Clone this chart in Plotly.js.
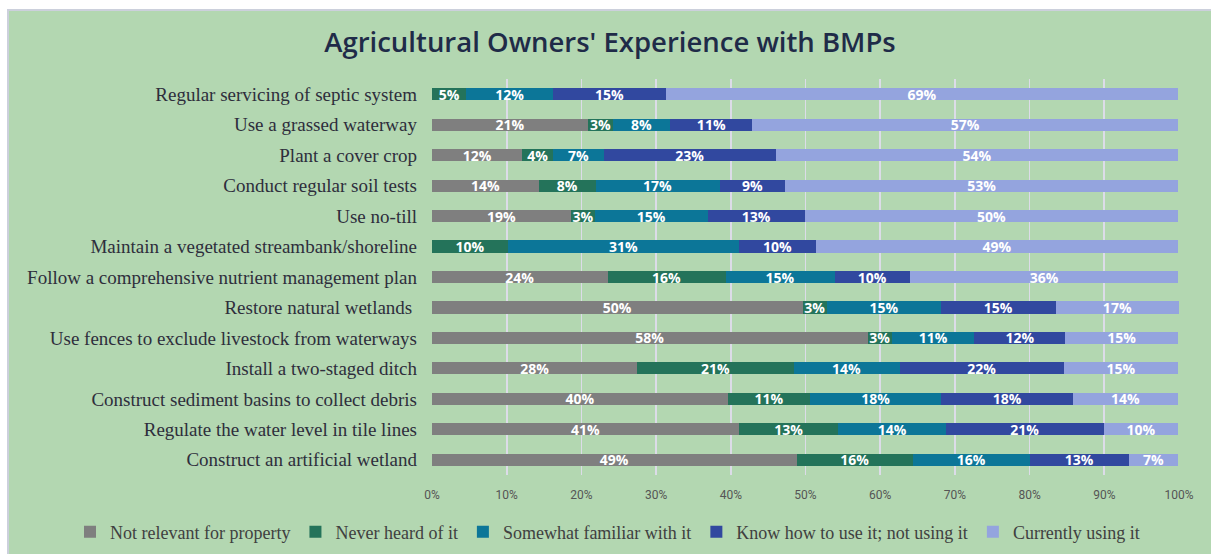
<!DOCTYPE html>
<html>
<head>
<meta charset="utf-8">
<script src="https://cdn.plot.ly/plotly-3.0.1.min.js"></script>
<style>
  html, body { margin: 0; padding: 0; background: #ffffff; width: 1211px; height: 554px; overflow: hidden; }
  #frame { position: absolute; left: 7px; top: 9px; width: 1204px; height: 545px; border-left: 2px solid #ccd0dc; border-top: 2px solid #ccd0dc; box-sizing: border-box; background: #b3d7b1; }
  #chart { position: absolute; left: 0; top: 0; width: 1202px; height: 543px; }
</style>
</head>
<body>
<div id="frame"><div id="chart"></div></div>
<script>
// Categories, top to bottom
const categories = [
  "Regular servicing of septic system",
  "Use a grassed waterway",
  "Plant a cover crop",
  "Conduct regular soil tests",
  "Use no-till",
  "Maintain a vegetated streambank/shoreline",
  "Follow a comprehensive nutrient management plan",
  "Restore natural wetlands ",
  "Use fences to exclude livestock from waterways",
  "Install a two-staged ditch",
  "Construct sediment basins to collect debris",
  "Regulate the water level in tile lines",
  "Construct an artificial wetland"
];

const seriesNames = [
  "Not relevant for property",
  "Never heard of it",
  "Somewhat familiar with it",
  "Know how to use it; not using it",
  "Currently using it"
];

// Percent values, same order as categories
const notRelevant   = [0,    20.9, 12.1, 14.3, 18.6, 0,    23.5, 49.6, 58.3, 27.5, 39.6, 41.1, 48.8];
const neverHeard    = [4.6,  3.3,  4.1,  7.6,  3.2,  10.2, 15.8, 3.3,  3.3,  20.9, 11.0, 13.3, 15.6];
const somewhatFam   = [11.6, 7.7,  6.8,  16.6, 15.1, 30.9, 14.6, 15.2, 11.0, 14.2, 17.6, 14.4, 15.6];
const knowNotUsing  = [15.1, 11.0, 23.0, 8.8,  13.0, 10.3, 10.1, 15.4, 12.2, 22.0, 17.6, 21.1, 13.3];
const currentlyUsing= [68.6, 57.0, 53.9, 52.6, 50.0, 48.5, 35.9, 16.5, 15.1, 15.3, 14.1, 10.0, 6.6];

const tickVals = [0, 10, 20, 30, 40, 50, 60, 70, 80, 90, 100];
const tickText = ["0%", "10%", "20%", "30%", "40%", "50%", "60%", "70%", "80%", "90%", "100%"];

const colors = ["#7f7f7f", "#24735a", "#0c7698", "#31489f", "#94a4de"];
const seriesValues = [notRelevant, neverHeard, somewhatFam, knowNotUsing, currentlyUsing];

const traces = seriesValues.map((vals, i) => ({
  type: "bar",
  orientation: "h",
  name: seriesNames[i],
  y: categories,
  x: vals,
  text: vals.map(v => v > 0 ? Math.round(v) + "%" : ""),
  textposition: "inside",
  insidetextanchor: "middle",
  constraintext: "none",
  textangle: 0,
  textfont: { family: "Open Sans, sans-serif", size: 14, color: "#ffffff", weight: 700 },
  marker: { color: colors[i], line: { width: 0 } },
  hoverinfo: "skip",
  cliponaxis: false
}));

const layout = {
  width: 1202,
  height: 543,
  paper_bgcolor: "#b3d7b1",
  plot_bgcolor: "#b3d7b1",
  barmode: "stack",
  bargap: 0.6,
  margin: { l: 423, r: 32, t: 68, b: 79, autoexpand: false },
  title: {
    text: "Agricultural Owners' Experience with BMPs",
    font: { family: "Open Sans, sans-serif", size: 27.5, color: "#1f2b48", weight: 600 },
    x: 0.5, xanchor: "center", xref: "container",
    y: 1 - 31 / 543, yanchor: "middle", yref: "container"
  },
  xaxis: {
    range: [0, 100],
    tickvals: tickVals,
    ticktext: tickText,
    showgrid: true,
    gridcolor: "#dcdce8",
    gridwidth: 1.8,
    zeroline: false,
    showline: false,
    ticks: "",
    ticklabelstandoff: 11,
    tickfont: { family: "Roboto, sans-serif", size: 12, color: "#555555" },
    fixedrange: true,
    automargin: false
  },
  yaxis: {
    type: "category",
    categoryorder: "array",
    categoryarray: categories,
    autorange: "reversed",
    showgrid: false,
    zeroline: false,
    showline: false,
    ticks: "",
    ticklabelstandoff: 14,
    tickfont: { family: "Liberation Serif, serif", size: 19, color: "#2e2e3c" },
    fixedrange: true,
    automargin: false
  },
  showlegend: true,
  legend: {
    orientation: "h",
    x: (61 - 423) / 747, xanchor: "left", xref: "paper",
    y: -(521 - 464) / 396, yanchor: "middle", yref: "paper",
    traceorder: "normal",
    itemwidth: 30,
    font: { family: "Liberation Serif, serif", size: 18, color: "#404040" },
    bgcolor: "rgba(0,0,0,0)"
  }
};

Plotly.newPlot("chart", traces, layout, { displayModeBar: false, staticPlot: true });
</script>
</body>
</html>
